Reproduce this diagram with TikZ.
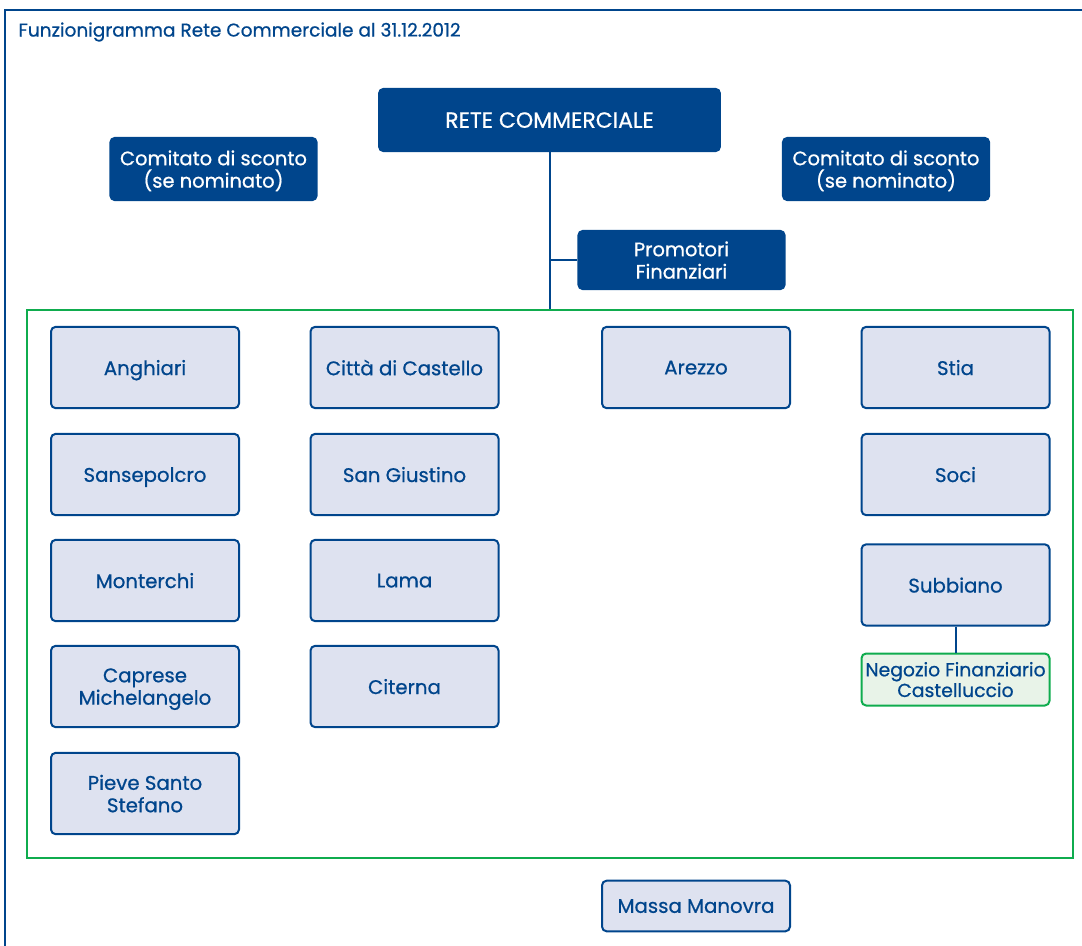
\documentclass[tikz,border=0pt]{standalone}
\usepackage{fontspec}
\setmainfont{Poppins}[FakeBold=0.7]
\definecolor{bluscuro}{RGB}{0,69,140}
\definecolor{bluchiaro}{RGB}{222,226,240}
\definecolor{verde}{RGB}{15,172,78}
\definecolor{verdechiaro}{RGB}{232,243,232}
\tikzset{every picture/.style={line width=0.75pt}}
\tikzset{
  vertice/.style={draw=bluscuro, fill=bluscuro, text=white, rounded corners=3.5pt, line width=1.2pt, inner sep=0pt, align=center, text depth=-1.5pt, font=\fontsize{14.6}{16.8}\selectfont},
  sede/.style={draw=bluscuro, fill=bluchiaro, text=bluscuro, rounded corners=3.5pt, line width=1.5pt, inner sep=0pt, align=center, text depth=-1.5pt, minimum width=141pt, minimum height=61pt, font=\fontsize{14.8}{16.8}\selectfont},
  negozio/.style={draw=verde, fill=verdechiaro, text=bluscuro, rounded corners=3.5pt, line width=1.5pt, inner sep=0pt, align=center, text depth=-1pt, minimum width=141pt, minimum height=39pt, font=\fontsize{14.1}{15.5}\selectfont},
  ramo/.style={draw=bluscuro, line width=1.5pt}
}

\begin{document}
\begin{tikzpicture}[x=0.75pt,y=0.75pt,yscale=-1,xscale=1]
            \useasboundingbox (0,0) rectangle (1082,946);
            %Outer frame
            \draw [bluscuro, line width=2.2pt] (5,950) -- (5,10) -- (1090,10) ;
            % Title
            \node (titolo) [anchor=west, text=bluscuro, inner sep=0pt, font=\fontsize{13.9}{16}\selectfont] at (18,32) {Funzionigramma Rete Commerciale al 31.12.2012};

            %Top level
            \node (rete) [vertice, minimum width=256pt, minimum height=47pt, font=\fontsize{16.5}{18}\selectfont] at (549.5,120) {RETE COMMERCIALE};
            \node (comsx) [vertice, minimum width=155pt, minimum height=47pt] at (213.5,169) {Comitato di sconto\\(se nominato)};
            \node (comdx) [vertice, minimum width=155pt, minimum height=47pt] at (886,169) {Comitato di sconto\\(se nominato)};
            \node (promo) [vertice, minimum width=155pt, minimum height=44pt] at (681.5,260) {Promotori\\Finanziari};

            %Green frame
            \node (rete_sedi) [draw=verde, line width=1.5pt, minimum width=784.5pt, minimum height=411pt, inner sep=0pt] at (550,584) {};

            %Column 1
            \node (anghiari) [sede] at (145,367.5) {Anghiari};
            \node (sansepolcro) [sede] at (145,474.5) {Sansepolcro};
            \node (monterchi) [sede] at (145,580.5) {Monterchi};
            \node (caprese) [sede] at (145,686.5) {Caprese\\Michelangelo};
            \node (pieve) [sede] at (145,793.5) {Pieve Santo\\Stefano};
            %Column 2
            \node (castello) [sede] at (404.5,367.5) {Città di Castello};
            \node (giustino) [sede] at (404.5,474.5) {San Giustino};
            \node (lama) [sede] at (404.5,580.5) {Lama};
            \node (citerna) [sede] at (404.5,686.5) {Citerna};
            %Column 3
            \node (arezzo) [sede] at (696,367.5) {Arezzo};
            %Column 4
            \node (stia) [sede] at (955.5,367.5) {Stia};
            \node (soci) [sede] at (955.5,474.5) {Soci};
            \node (subbiano) [sede] at (955.5,585) {Subbiano};
            \node (castelluccio) [negozio] at (955.5,679.5) {Negozio Finanziario\\Castelluccio};

            %Bottom
            \node (massa) [sede, minimum height=38pt] at (696,906) {Massa Manovra};

            %Connectors
            \draw [ramo] (rete.south) -- (rete.south |- rete_sedi.north) ;
            \draw [ramo] (promo.west) -- (promo.west -| rete.south) ;
            \draw [ramo] (subbiano.south) -- (castelluccio.north) ;
\end{tikzpicture}
\end{document}
